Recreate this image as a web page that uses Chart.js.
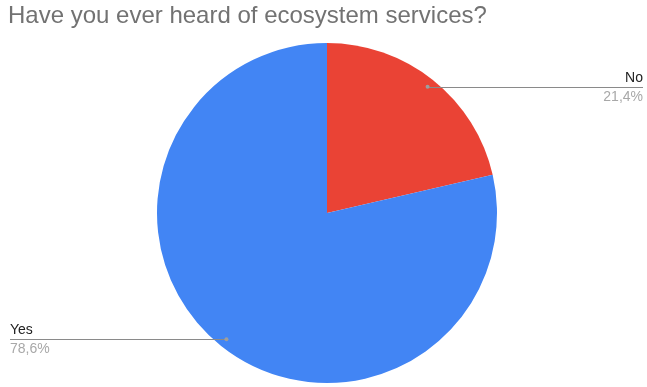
<!DOCTYPE html>
<html>
<head>
<meta charset="utf-8">
<script src="https://cdn.jsdelivr.net/npm/chart.js@4.4.1/dist/chart.umd.min.js"></script>
<style>
  html, body { margin: 0; padding: 0; background: #fff; }
  canvas { display: block; }
</style>
</head>
<body>
<canvas id="pie-chart" width="647" height="387"></canvas>
<script>
const answers = ['No', 'Yes'];
const shares = [21.4, 78.6];
const sliceColors = ['#EA4335', '#4285F4'];
const chartTitle = 'Have you ever heard of ecosystem services?';

// title + leader-line labels drawn on top of the pie
const calloutPlugin = {
    id: 'callouts',
    afterDraw(chart) {
        const ctx = chart.ctx;
        ctx.save();
        ctx.fillStyle = '#727272';
        ctx.font = '24px "Liberation Sans", Arial, sans-serif';
        ctx.textAlign = 'left';
        ctx.textBaseline = 'middle';
        ctx.fillText(chartTitle, 8, 16);

        const meta = chart.getDatasetMeta(0);
        meta.data.forEach((arc, i) => {
            const mid = (arc.startAngle + arc.endAngle) / 2;
            const r = arc.outerRadius * 0.95;
            const px = arc.x + Math.cos(mid) * r;
            const py = arc.y + Math.sin(mid) * r;
            const right = Math.cos(mid) > 0;
            const endX = right ? 643 : 10;

            ctx.strokeStyle = '#8a8a8a';
            ctx.lineWidth = 1;
            ctx.beginPath();
            ctx.moveTo(px, Math.round(py) + 0.5);
            ctx.lineTo(endX, Math.round(py) + 0.5);
            ctx.stroke();

            ctx.fillStyle = '#9e9e9e';
            ctx.beginPath();
            ctx.arc(px, py, 2, 0, Math.PI * 2);
            ctx.fill();

            ctx.textAlign = right ? 'right' : 'left';
            ctx.font = '14px "Liberation Sans", Arial, sans-serif';
            ctx.fillStyle = '#222';
            ctx.fillText(answers[i], endX, py - 9);
            ctx.fillStyle = '#a8a8a8';
            ctx.fillText(shares[i].toFixed(1).replace('.', ',') + '%', endX, py + 10);
        });
        ctx.restore();
    }
};

const ctx = document.getElementById('pie-chart').getContext('2d');
new Chart(ctx, {
    type: 'pie',
    data: {
        labels: answers,
        datasets: [{
            data: shares,
            backgroundColor: sliceColors,
            borderWidth: 0
        }]
    },
    options: {
        responsive: false,
        animation: false,
        layout: {
            padding: { top: 43, bottom: 4, left: 157, right: 150 }
        },
        plugins: {
            legend: { display: false },
            tooltip: { enabled: false }
        }
    },
    plugins: [calloutPlugin]
});
</script>
</body>
</html>
